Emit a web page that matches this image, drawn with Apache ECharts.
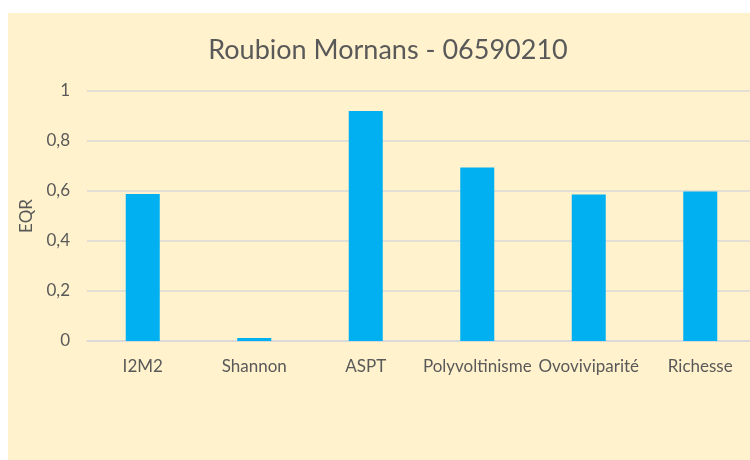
<!DOCTYPE html>
<html>
<head>
<meta charset="utf-8">
<script src="https://cdn.jsdelivr.net/npm/echarts@6/dist/echarts.min.js"></script>
<style>
  html, body { margin: 0; padding: 0; background: #fff; overflow: hidden; width: 750px; height: 460px; }
  #chart { position: absolute; left: 8px; top: 13px; width: 760px; height: 460px; background: #FFF2CC; }
</style>
</head>
<body>
<div id="chart"></div>
<script>
// données
const categories = ['I2M2', 'Shannon', 'ASPT', 'Polyvoltinisme', 'Ovoviviparité', 'Richesse'];
const eqrValues = [0.588, 0.012, 0.92, 0.694, 0.586, 0.598];
const yTicks = [0, 0.2, 0.4, 0.6, 0.8, 1];

const chart = echarts.init(document.getElementById('chart'));

const textColor = '#595959';
const font = 'Lato, "Open Sans", sans-serif';

chart.setOption({
  backgroundColor: '#FFF2CC',
  animation: false,
  title: {
    text: 'Roubion Mornans - 06590210',
    left: 'center',
    top: 19,
    textStyle: { color: textColor, fontFamily: font, fontSize: 27, fontWeight: 'normal' }
  },
  grid: { left: 79, right: 12, top: 78, bottom: 132 },
  xAxis: {
    type: 'category',
    data: categories,
    axisLine: { lineStyle: { color: '#D9D9D9', width: 1.5 } },
    axisTick: { show: false },
    axisLabel: { color: textColor, fontFamily: font, fontSize: 17, margin: 17, interval: 0 }
  },
  yAxis: {
    type: 'value',
    min: yTicks[0],
    max: yTicks[yTicks.length - 1],
    interval: 0.2,
    name: 'EQR',
    nameLocation: 'middle',
    nameGap: 52,
    nameTextStyle: { color: textColor, fontFamily: font, fontSize: 17 },
    axisLine: { show: false },
    axisTick: { show: false },
    axisLabel: {
      color: textColor, fontFamily: font, fontSize: 17, margin: 17,
      formatter: v => String(Math.round(v * 10) / 10).replace('.', ',')
    },
    splitLine: { lineStyle: { color: '#D9D9D9', width: 1.5 } }
  },
  series: [{
    name: 'EQR',
    type: 'bar',
    data: eqrValues,
    barWidth: 34,
    itemStyle: { color: '#00B0F0' }
  }]
});
</script>
</body>
</html>
